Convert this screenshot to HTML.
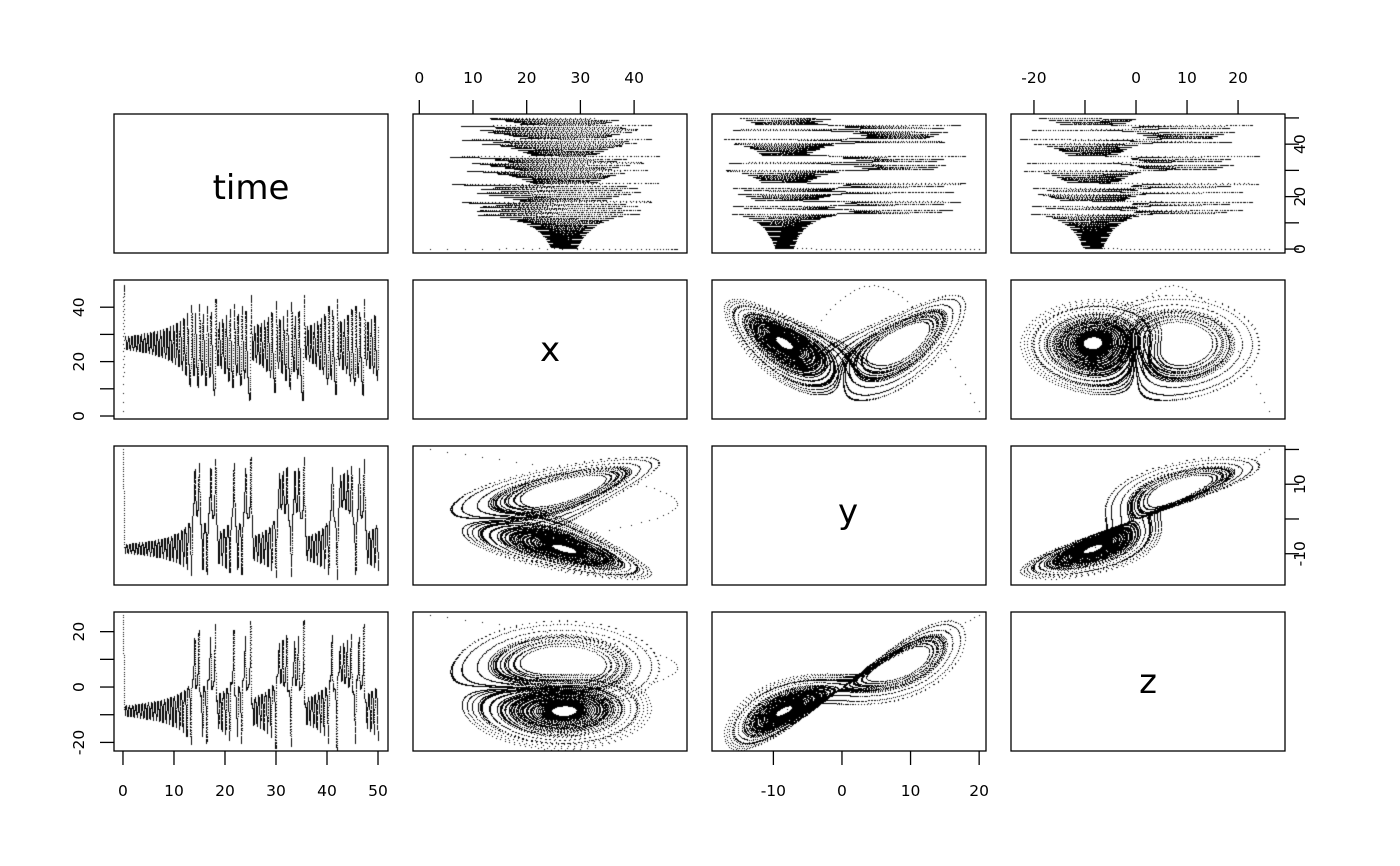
<!DOCTYPE html>
<html><head><meta charset="utf-8"><style>
html,body{margin:0;padding:0;background:#fff;}
#wrap{position:relative;width:1400px;height:866px;overflow:hidden;}
canvas,svg{position:absolute;left:0;top:0;}
text{font-family:"DejaVu Sans","Liberation Sans",sans-serif;fill:#000;}
</style></head><body><div id="wrap">
<canvas id="c" width="1400" height="866"></canvas>
<svg id="s" width="1400" height="866" xmlns="http://www.w3.org/2000/svg">
<g fill="none" stroke="#000" stroke-width="1.3">
<rect x="114" y="114" width="274" height="139"/><rect x="413" y="114" width="274" height="139"/><rect x="712" y="114" width="274" height="139"/><rect x="1011" y="114" width="274" height="139"/>
<rect x="114" y="280" width="274" height="139"/><rect x="413" y="280" width="274" height="139"/><rect x="712" y="280" width="274" height="139"/><rect x="1011" y="280" width="274" height="139"/>
<rect x="114" y="446" width="274" height="139"/><rect x="413" y="446" width="274" height="139"/><rect x="712" y="446" width="274" height="139"/><rect x="1011" y="446" width="274" height="139"/>
<rect x="114" y="612" width="274" height="139"/><rect x="413" y="612" width="274" height="139"/><rect x="712" y="612" width="274" height="139"/><rect x="1011" y="612" width="274" height="139"/>
</g>
<g id="ax" stroke="#000" stroke-width="1.3"></g>
<g font-size="34" text-anchor="middle">
<text x="251" y="199">time</text><text x="550" y="361">x</text><text x="848" y="523">y</text><text x="1148" y="693">z</text>
</g>
<g id="lab" font-size="15.5" text-anchor="middle"></g>
</svg>
</div>
<script>
var R={
 t:{h:[-1.76,51.96],v:[-1.5,51.5]},
 x:{h:[-1.17,49.85],v:[-1.1,50.0]},
 y:{h:[-18.95,21.0],v:[-19,21]},
 z:{h:[-24.5,29.2],v:[-23.1,27.1]}
};
var cols=[114,413,712,1011], rows=[114,280,446,612], W=274, H=139;
var names=['t','x','y','z'];
function hx(v,j){var r=R[names[j]].h;return cols[j]+(v-r[0])/(r[1]-r[0])*W;}
function vy(v,i){var r=R[names[i]].v;return rows[i]+H-(v-r[0])/(r[1]-r[0])*H;}
var ax=document.getElementById('ax'),lab=document.getElementById('lab'),NS='http://www.w3.org/2000/svg';
function line(x1,y1,x2,y2){var l=document.createElementNS(NS,'line');l.setAttribute('x1',x1);l.setAttribute('y1',y1);l.setAttribute('x2',x2);l.setAttribute('y2',y2);ax.appendChild(l);}
function txt(x,y,s,rot){var t=document.createElementNS(NS,'text');t.setAttribute('x',x);t.setAttribute('y',y);if(rot)t.setAttribute('transform','rotate(-90 '+x+' '+y+')');t.textContent=s;lab.appendChild(t);}
function hAxis(j,ticks,labels,top){var y0=top?114:751,d=top?-14:14;
 ticks.forEach(function(v){var x=hx(v,j);line(x,y0,x,y0+d);});
 labels.forEach(function(v){txt(hx(v,j),top?83:796,String(v));});}
function vAxis(i,ticks,labels,right){var x0=right?1285:114,d=right?14:-14;
 ticks.forEach(function(v){var y=vy(v,i);line(x0,y,x0+d,y);});
 labels.forEach(function(v){txt(right?1305:84,vy(v,i),String(v),true);});}
hAxis(0,[0,10,20,30,40,50],[0,10,20,30,40,50],false);
hAxis(2,[-10,0,10,20],[-10,0,10,20],false);
hAxis(1,[0,10,20,30,40],[0,10,20,30,40],true);
hAxis(3,[-20,-10,0,10,20],[-20,0,10,20],true);
vAxis(1,[0,10,20,30,40],[0,20,40],false);
vAxis(3,[-20,-10,0,10,20],[-20,0,20],false);
vAxis(0,[0,10,20,30,40,50],[0,20,40],true);
vAxis(2,[-10,0,10,20],[-10,10],true);
var s=10,rho=28,b=8/3;
function f(p){return [s*(p[1]-p[0]),p[0]*(rho-p[2])-p[1],p[0]*p[1]-b*p[2]];}
var p=[-8.485+4.4,-8.485,27],dt=0.001,data=[];
// initial spike segment near t=0
for(var k=0;k<=40;k++){var u=k/40;data.push([0.25*u,2+46*Math.sin(Math.PI*u*0.9),20-28*u,26-34*u]);}
for(var n=0;n<=10000;n++){
 var t=n*0.005;
 if(t>=0.3)data.push([t,p[2],p[0],p[1]]);
 for(var m=0;m<5;m++){
  var a1=f(p),a2=f([p[0]+a1[0]*dt/2,p[1]+a1[1]*dt/2,p[2]+a1[2]*dt/2]),
      a3=f([p[0]+a2[0]*dt/2,p[1]+a2[1]*dt/2,p[2]+a2[2]*dt/2]),
      a4=f([p[0]+a3[0]*dt,p[1]+a3[1]*dt,p[2]+a3[2]*dt]);
  for(var c=0;c<3;c++)p[c]+=dt/6*(a1[c]+2*a2[c]+2*a3[c]+a4[c]);
 }
}
var ctx=document.getElementById('c').getContext('2d');ctx.fillStyle='#000';
for(var i=0;i<4;i++)for(var j=0;j<4;j++){if(i==j)continue;
 for(var k=0;k<data.length;k++){var X=hx(data[k][j],j),Y=vy(data[k][i],i);
  if(X>cols[j]+1&&X<cols[j]+W-1&&Y>rows[i]+1&&Y<rows[i]+H-1)ctx.fillRect(Math.round(X),Math.round(Y),1,1);}}
</script>
</body></html>
